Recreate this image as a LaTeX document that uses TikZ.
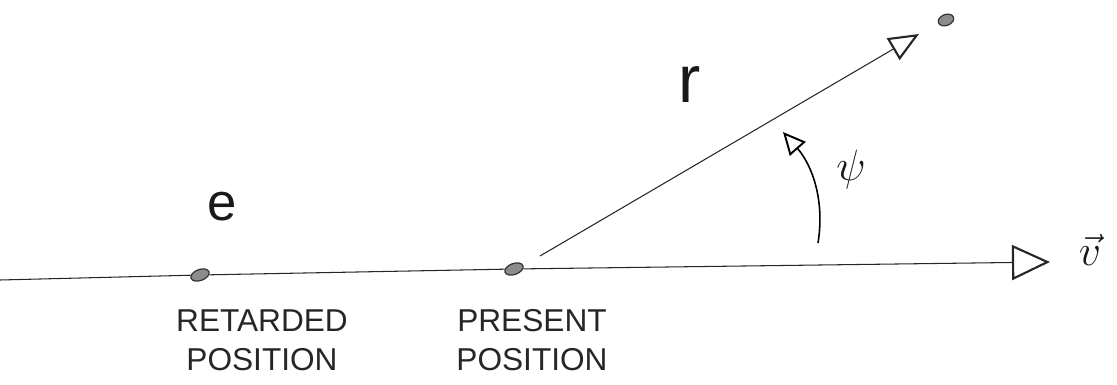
\documentclass[tikz,border=0pt]{standalone}
\usepackage{fontspec}
\setmainfont{Liberation Sans}
\usetikzlibrary{arrows.meta,shapes.geometric}
\begin{document}
\begin{tikzpicture}[x=0.02cm,y=-0.02cm,
  ln/.style={line width=0.6pt,draw=black!85},
  dot/.style={ellipse,draw=black!80,fill=black!45,line width=0.7pt,minimum width=0.38cm,minimum height=0.22cm,inner sep=0pt,rotate=20},
  lbl/.style={font=\fontsize{18}{22}\selectfont,align=center,text=black!85},
  sym/.style={text=black!90}]
\useasboundingbox (0,0) rectangle (1117,385);
\coordinate (L) at (0,280);
\coordinate (H) at (1050,262);
\coordinate (R0) at (540,256);
\coordinate (Rt) at (919,34);
\node[dot] (ret) at (200,275) {};
\node[dot] (pres) at (514,269) {};
\node[dot,minimum width=0.32cm,minimum height=0.22cm] (tgt) at (946,20) {};
\draw[ln,-{Triangle[open,length=0.76cm,width=0.7cm,line width=1.2pt]}] (L) -- (ret) -- (pres) -- (H);
\draw[ln,-{Triangle[open,length=0.6cm,width=0.5cm,line width=1.2pt]}] (R0) -- (Rt);
\coordinate (A0) at (818,243);
\coordinate (A1) at (783,132);
\draw[line width=0.9pt,-{Triangle[open,length=0.45cm,width=0.42cm,line width=1.1pt]}] (A0) .. controls (825,200) and (812,165) .. (A1);
\node[sym,font=\fontsize{30}{34}\selectfont] (e) at (222,207) {e};
\node[sym,font=\fontsize{38}{42}\selectfont] (r) at (690,85) {r};
\node[sym,font=\fontsize{27}{30}\selectfont] (psi) at (851,170) {$\psi$};
\node[sym,font=\fontsize{30}{34}\selectfont] (v) at (1090,250) {$\vec{v}$};
\node[lbl] (retl) at (262,340) {RETARDED\\POSITION};
\node[lbl] (presl) at (532,340) {PRESENT\\POSITION};
\end{tikzpicture}
\end{document}
